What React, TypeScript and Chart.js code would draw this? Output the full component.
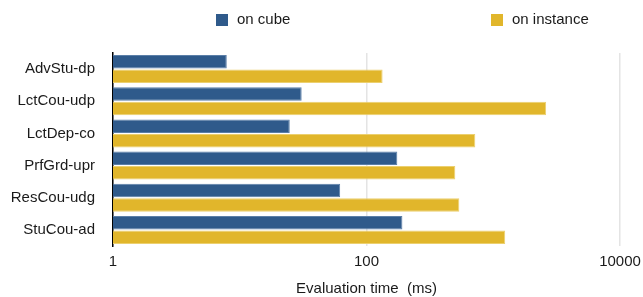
import React, { useEffect, useRef } from "react";
import { Chart, registerables } from "chart.js";

Chart.register(...registerables);

const categories = ["AdvStu-dp", "LctCou-udp", "LctDep-co", "PrfGrd-upr", "ResCou-udg", "StuCou-ad"];
const onCube = [7.9, 30.8, 24.8, 175, 62, 192];
const onInstance = [134, 2614, 722, 502, 540, 1243];
const tickValues = [1, 100, 10000];
const seriesNames = ["on cube", "on instance"];
const axisTitle = "Evaluation time  (ms)";

const BLUE = "#2f5a8b";
const BLUE_EDGE = "#5b7fa8";
const YELLOW = "#e1b62b";
const YELLOW_EDGE = "#ecd06f";
const FONT = "'Liberation Sans', Arial, Helvetica, sans-serif";

const legendPlugin = {
  id: "customLegend",
  afterDraw(chart: any) {
    const ctx = chart.ctx;
    const items = [
      { text: seriesNames[0], color: BLUE, x: 216 },
      { text: seriesNames[1], color: YELLOW, x: 491 },
    ];
    ctx.save();
    ctx.font = `15px ${FONT}`;
    ctx.textBaseline = "middle";
    ctx.textAlign = "left";
    items.forEach((it) => {
      ctx.fillStyle = it.color;
      ctx.fillRect(it.x, 14, 12, 12);
      ctx.fillStyle = "#1a1a1a";
      ctx.fillText(it.text, it.x + 21, 20);
    });
    ctx.restore();
  },
};

export default function App() {
  const ref = useRef<HTMLCanvasElement | null>(null);
  useEffect(() => {
    if (!ref.current) return;
    const chart = new Chart(ref.current, {
      type: "bar",
      data: {
        labels: categories,
        datasets: [
          {
            label: seriesNames[0],
            data: onCube,
            backgroundColor: BLUE,
            borderColor: BLUE_EDGE,
            borderWidth: 1,
            barPercentage: 0.93,
            categoryPercentage: 0.9,
          },
          {
            label: seriesNames[1],
            data: onInstance,
            backgroundColor: YELLOW,
            borderColor: YELLOW_EDGE,
            borderWidth: 1,
            barPercentage: 0.93,
            categoryPercentage: 0.9,
          },
        ],
      },
      options: {
        indexAxis: "y",
        animation: false,
        responsive: false,
        maintainAspectRatio: false,
        layout: { padding: { top: 53, right: 0, left: 0, bottom: 0 } },
        plugins: {
          legend: { display: false },
          tooltip: { enabled: false },
        },
        scales: {
          x: {
            type: "logarithmic",
            min: 1,
            max: 10000,
            afterBuildTicks: (scale: any) => {
              scale.ticks = tickValues.map((v) => ({ value: v, major: true }));
            },
            afterFit: (scale: any) => {
              scale.height = 51;
              scale.paddingRight = 23;
              scale.paddingLeft = 0;
            },
            ticks: {
              callback: (v: any) => String(v),
              color: "#1a1a1a",
              font: { family: FONT, size: 15 },
              padding: 7,
              maxRotation: 0,
              autoSkip: false,
            },
            grid: { color: "#e4e4e4", lineWidth: 1.5, drawTicks: false },
            border: { display: false },
            title: {
              display: true,
              text: axisTitle,
              color: "#1a1a1a",
              font: { family: FONT, size: 15 },
              padding: { top: 0, bottom: -1 },
            },
          },
          y: {
            afterFit: (scale: any) => {
              scale.width = 113;
            },
            ticks: {
              color: "#1a1a1a",
              font: { family: FONT, size: 15 },
              padding: 18,
            },
            grid: { display: false, drawTicks: false },
            border: { display: true, color: "#000000", width: 1.5 },
          },
        },
      },
      plugins: [legendPlugin],
    } as any);
    return () => chart.destroy();
  }, []);
  return (
    <div style={{ position: "fixed", left: 0, top: 0, width: 643, height: 297, background: "#fff" }}>
      <canvas ref={ref} width={643} height={297} style={{ width: 643, height: 297 }} />
    </div>
  );
}
